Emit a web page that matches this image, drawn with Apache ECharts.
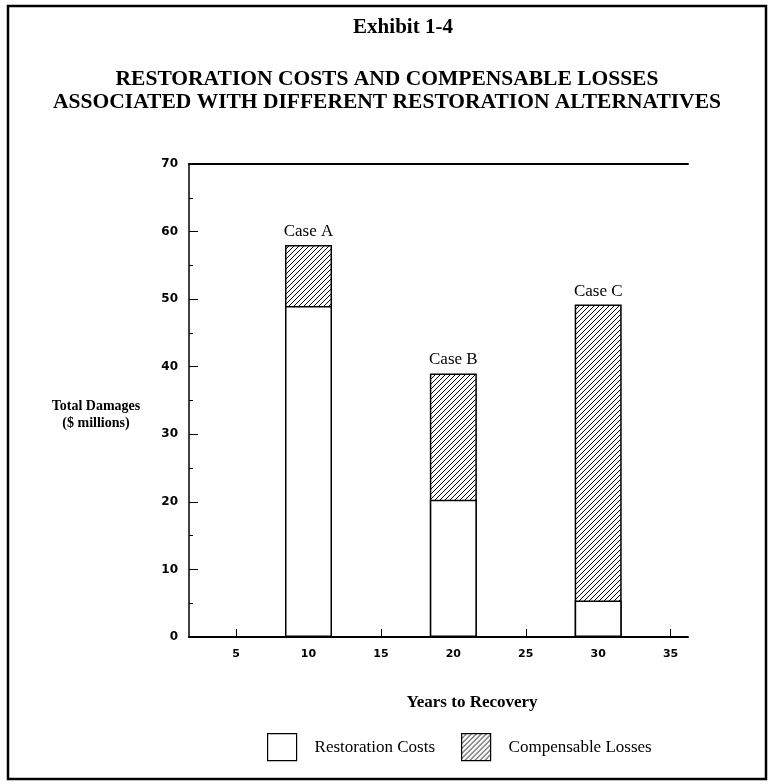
<!DOCTYPE html>
<html>
<head>
<meta charset="utf-8">
<script src="https://cdn.jsdelivr.net/npm/echarts@6/dist/echarts.min.js"></script>
<style>html,body{margin:0;padding:0;background:#fff}#chart{width:768px;height:784px}</style>
</head>
<body>
<div id="chart"></div>
<script>
const years = [10, 20, 30];
const caseNames = ['Case A', 'Case B', 'Case C'];
const restorationCosts = [49, 20.3, 5.4];
const compensableLosses = [9, 18.7, 43.8];
const xTickValues = [5, 10, 15, 20, 25, 30, 35];
const seriesNames = ['Restoration Costs', 'Compensable Losses'];
const titleText = 'Exhibit 1-4';
const subtitleLines = ['RESTORATION COSTS AND COMPENSABLE LOSSES', 'ASSOCIATED WITH DIFFERENT RESTORATION ALTERNATIVES'];
const yAxisTitle = ['Total Damages', '($ millions)'];
const xAxisTitle = 'Years to Recovery';

// stacked totals (compensable losses sit on top of restoration costs)
const totals = restorationCosts.map((v, i) => v + compensableLosses[i]);

// diagonal hatch pattern
const tile = document.createElement('canvas');
tile.width = 5; tile.height = 5;
const g = tile.getContext('2d');
g.fillStyle = '#fff'; g.fillRect(0, 0, 5, 5);
g.strokeStyle = '#000'; g.lineWidth = 1.0;
g.beginPath();
g.moveTo(-1, 6); g.lineTo(6, -1);
g.moveTo(-1, 1); g.lineTo(1, -1);
g.moveTo(4, 6); g.lineTo(6, 4);
g.stroke();

const serif = '"Liberation Serif", "Times New Roman", serif';
const sansB = '"DejaVu Sans", sans-serif';

const chart = echarts.init(document.getElementById('chart'), null, {renderer: 'canvas'});
chart.setOption({
  animation: false,
  backgroundColor: '#fff',
  title: [
    {text: titleText, left: 403, top: 17, textAlign: 'center', padding: 0,
     textStyle: {fontFamily: serif, fontWeight: 'bold', fontSize: 21, color: '#000'}},
    {text: subtitleLines.join('\n'), left: 387, top: 68, textAlign: 'center', padding: 0,
     textStyle: {fontFamily: serif, fontWeight: 'bold', fontSize: 21.5, lineHeight: 23, color: '#000'}}
  ],
  legend: {
    left: 267, top: 733, padding: 0, itemWidth: 29, itemHeight: 27, itemGap: 26, icon: 'rect',
    data: seriesNames,
    itemStyle: {borderColor: '#000', borderWidth: 1.2},
    textStyle: {fontFamily: serif, fontSize: 17, color: '#000', padding: [0, 0, 0, 13]},
    selectedMode: false
  },
  grid: {left: 189, right: 80, top: 164, bottom: 147, containLabel: false},
  xAxis: [{
    type: 'value', min: 1.75, max: 36.2, position: 'bottom',
    axisLine: {show: true, lineStyle: {color: '#000', width: 2}},
    axisTick: {show: true, inside: true, length: 8, customValues: xTickValues, lineStyle: {color: '#000', width: 1}},
    axisLabel: {customValues: xTickValues, margin: 12, fontFamily: sansB, fontWeight: 'bold', fontSize: 11, color: '#000'},
    splitLine: {show: false}
  }, {
    type: 'value', min: 1.75, max: 36.2, position: 'top',
    axisLine: {show: true, lineStyle: {color: '#000', width: 2}},
    axisTick: {show: false}, axisLabel: {show: false}, splitLine: {show: false}
  }],
  yAxis: {
    type: 'value', min: 0, max: 70, interval: 10,
    axisLine: {show: true, lineStyle: {color: '#000', width: 1.5}},
    axisTick: {show: true, inside: true, length: 9, lineStyle: {color: '#000', width: 1}},
    minorTick: {show: true, splitNumber: 2, length: 4, lineStyle: {color: '#000', width: 1}},
    axisLabel: {margin: 11, fontFamily: sansB, fontWeight: 'bold', fontSize: 12, color: '#000'},
    splitLine: {show: false}
  },
  graphic: [
    {type: 'rect', shape: {x: 8, y: 6, width: 758, height: 773}, style: {fill: 'none', stroke: '#000', lineWidth: 2.5}, silent: true},
    {type: 'text', x: 96, y: 406, style: {text: yAxisTitle[0], textAlign: 'center', textVerticalAlign: 'middle', font: 'bold 14px ' + serif, fill: '#000'}, silent: true},
    {type: 'text', x: 96, y: 423, style: {text: yAxisTitle[1], textAlign: 'center', textVerticalAlign: 'middle', font: 'bold 14px ' + serif, fill: '#000'}, silent: true},
    {type: 'text', x: 472, y: 703, style: {text: xAxisTitle, textAlign: 'center', textVerticalAlign: 'middle', font: 'bold 17px ' + serif, fill: '#000'}, silent: true}
  ],
  series: [
    {
      name: seriesNames[0], type: 'bar', barWidth: 47, barGap: '-100%', z: 3,
      data: years.map((x, i) => [x, restorationCosts[i]]),
      itemStyle: {color: '#fff', borderColor: '#000', borderWidth: 1.5}
    },
    {
      name: seriesNames[1], type: 'bar', barWidth: 47, barGap: '-100%', z: 2,
      data: years.map((x, i) => [x, totals[i]]),
      itemStyle: {color: {image: tile, repeat: 'repeat'}, borderColor: '#000', borderWidth: 1.5},
      label: {show: true, position: 'top', distance: 5, formatter: p => caseNames[p.dataIndex],
              fontFamily: serif, fontSize: 17, color: '#000'}
    }
  ]
});
</script>
</body>
</html>
